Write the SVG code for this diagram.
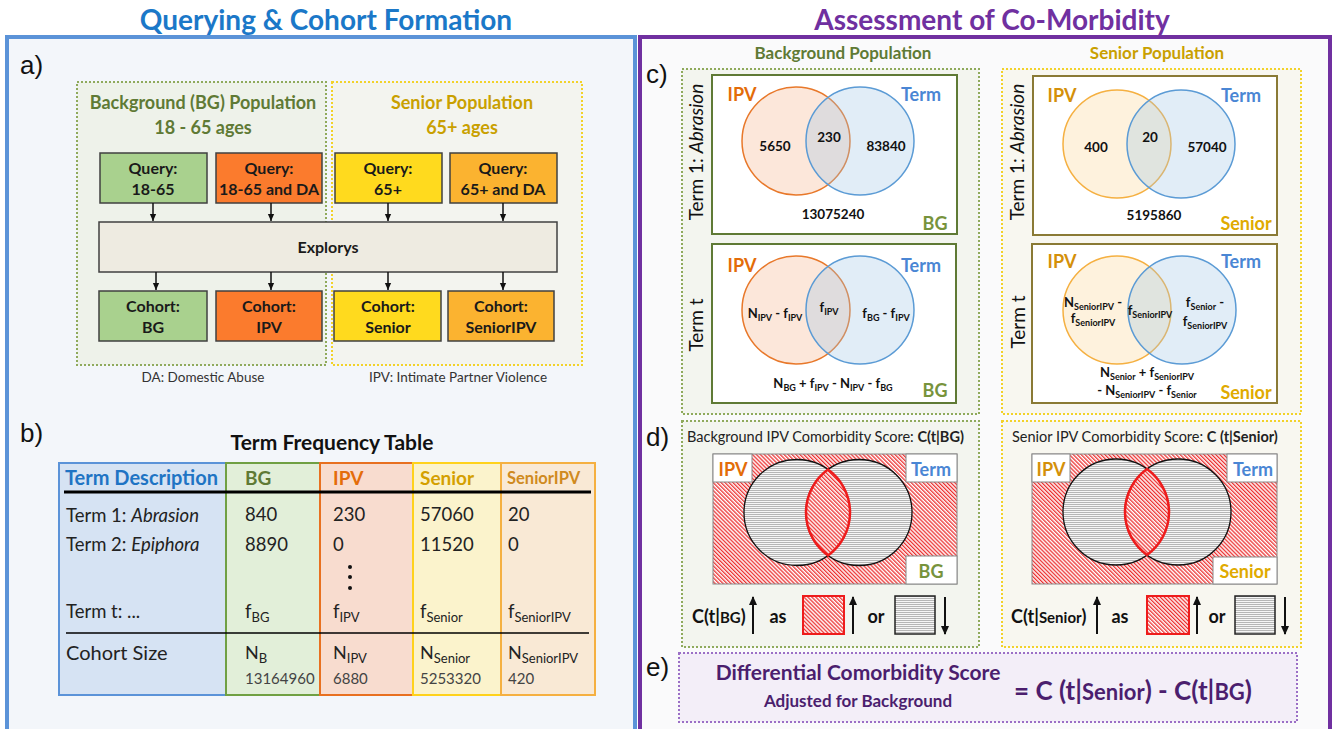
<svg xmlns="http://www.w3.org/2000/svg" width="1333" height="729" viewBox="0 0 1333 729">
<defs>
<style>
text{font-family:Lato,"Open Sans","Liberation Sans",sans-serif;fill:#1a1a1a}
.b{font-weight:bold}
.mid{text-anchor:middle}
.lab{font-family:"Liberation Sans",Arial,sans-serif;font-size:26px;fill:#111}
.q{font-size:16px;font-weight:bold;text-anchor:middle;fill:#1a1a1a}
.box{stroke:#404040;stroke-width:1.5}
.conn{stroke:#111;stroke-width:1.5;fill:none;marker-end:url(#ah)}
.num{font-size:13.5px;font-weight:bold;text-anchor:middle;fill:#111}
.ex{font-size:13px;font-weight:bold;text-anchor:middle;fill:#111}
.cell{font-size:18.5px;fill:#222}
.big{font-size:18px;font-weight:bold;text-anchor:middle}
.rot{font-size:19px;text-anchor:middle;fill:#111}
.dotG{fill:#f3f5ef;stroke:#8faa5c;stroke-width:2;stroke-dasharray:2 2}
.dotY{fill:#f8f7f0;stroke:#f2d22a;stroke-width:2;stroke-dasharray:2 2}
.ipvC{fill:#f4b183;fill-opacity:0.3;stroke:#e8782a;stroke-width:1.5}
.sipvC{fill:#fbd38d;fill-opacity:0.3;stroke:#f5b041;stroke-width:1.5}
.termC{fill:#9dc3e6;fill-opacity:0.3;stroke:#5b9bd5;stroke-width:1.5}
.grayC{fill:url(#gray);stroke:#111;stroke-width:1.3}
.lens{fill:url(#red);stroke:#ee1c1c;stroke-width:2.5}
.wb{fill:#fff;stroke:#888;stroke-width:1}
.sc{font-size:18px;font-weight:bold;fill:#111}
.arr{stroke:#111;stroke-width:2;fill:none}
</style>
<marker id="ah" viewBox="0 0 10 10" refX="10" refY="5" markerWidth="5" markerHeight="5" orient="auto" markerUnits="strokeWidth"><path d="M0,0.5 L10,5 L0,9.5 Z" fill="#111"/></marker>
<marker id="ah2" viewBox="0 0 10 10" refX="9" refY="5" markerWidth="4.5" markerHeight="4.5" orient="auto" markerUnits="strokeWidth"><path d="M0,0.5 L10,5 L0,9.5 Z" fill="#111"/></marker>
<pattern id="red" width="2.8" height="2.8" patternUnits="userSpaceOnUse" patternTransform="rotate(-45)"><rect width="2.8" height="2.8" fill="#fff"/><rect width="1.3" height="2.8" fill="#ec3030"/></pattern>
<pattern id="gray" width="4" height="2" patternUnits="userSpaceOnUse"><rect width="4" height="2" fill="#f6f6f6"/><rect width="4" height="0.7" fill="#9a9a9a"/></pattern>
</defs>

<rect width="1333" height="729" fill="#ffffff"/>

<!-- Panels -->
<g id="panel-left">
<rect x="7" y="37" width="628" height="700" fill="#f3f6fa" stroke="#5b93d8" stroke-width="4"/>
<text x="326" y="30" class="b mid" style="font-size:28px;fill:#1b78c8">Querying &amp; Cohort Formation</text>
<text x="20" y="74" class="lab">a)</text>
<text x="20" y="442" class="lab">b)</text>
</g>
<g id="panel-right">
<rect x="640" y="37" width="690" height="700" fill="#fafafb" stroke="#7030a0" stroke-width="4"/>
<text x="992" y="30" class="b mid" style="font-size:28px;fill:#7030a0">Assessment of Co-Morbidity</text>
<text x="646" y="83" class="lab">c)</text>
<text x="646" y="446" class="lab">d)</text>
<text x="646" y="676" class="lab">e)</text>
</g>

<!-- a) populations -->
<g id="bg-population">
<rect x="77" y="82" width="249" height="283" class="dotG" style="fill:#eef2ea"/>
<text x="203" y="109" class="b mid" style="font-size:18px;fill:#5f7a35">Background (BG) Population</text>
<text x="203" y="134" class="b mid" style="font-size:18px;fill:#5f7a35">18 - 65 ages</text>
<text x="203" y="382" class="mid" style="font-size:13.5px;fill:#333">DA: Domestic Abuse</text>
</g>
<g id="senior-population">
<rect x="332" y="82" width="250" height="283" class="dotY" style="fill:#f3f4ef"/>
<text x="462" y="109" class="b mid" style="font-size:18px;fill:#c9a000">Senior Population</text>
<text x="462" y="134" class="b mid" style="font-size:18px;fill:#c9a000">65+ ages</text>
<text x="458" y="382" class="mid" style="font-size:13.5px;fill:#333">IPV: Intimate Partner Violence</text>
</g>

<g id="query-bg"><rect x="100" y="153" width="107" height="50" fill="#a9d18e" class="box"/><text x="153" y="174" class="q">Query:</text><text x="153" y="195" class="q">18-65</text></g>
<g id="query-ipv"><rect x="216" y="153" width="106" height="50" fill="#fb7b2d" class="box"/><text x="269" y="174" class="q">Query:</text><text x="269" y="195" class="q">18-65 and DA</text></g>
<g id="query-senior"><rect x="335" y="153" width="107" height="50" fill="#ffda1e" class="box"/><text x="388" y="174" class="q">Query:</text><text x="388" y="195" class="q">65+</text></g>
<g id="query-senioripv"><rect x="450" y="153" width="107" height="50" fill="#fbb330" class="box"/><text x="503" y="174" class="q">Query:</text><text x="503" y="195" class="q">65+ and DA</text></g>

<g id="explorys"><rect x="99" y="222" width="458" height="50" fill="#eeebe1" class="box"/><text x="328" y="253" class="q">Explorys</text></g>

<g id="cohort-bg"><rect x="99" y="291" width="108" height="50" fill="#a9d18e" class="box"/><text x="153" y="312" class="q">Cohort:</text><text x="153" y="333" class="q">BG</text></g>
<g id="cohort-ipv"><rect x="216" y="291" width="106" height="50" fill="#fb7b2d" class="box"/><text x="269" y="312" class="q">Cohort:</text><text x="269" y="333" class="q">IPV</text></g>
<g id="cohort-senior"><rect x="334" y="291" width="107" height="50" fill="#ffda1e" class="box"/><text x="388" y="312" class="q">Cohort:</text><text x="388" y="333" class="q">Senior</text></g>
<g id="cohort-senioripv"><rect x="448" y="291" width="106" height="50" fill="#fbb330" class="box"/><text x="501" y="312" class="q">Cohort:</text><text x="501" y="333" class="q">SeniorIPV</text></g>

<g id="connectors">
<line x1="153" y1="203" x2="153" y2="221" class="conn"/>
<line x1="271" y1="203" x2="271" y2="221" class="conn"/>
<line x1="388" y1="203" x2="388" y2="221" class="conn"/>
<line x1="503" y1="203" x2="503" y2="221" class="conn"/>
<line x1="156" y1="272" x2="156" y2="290" class="conn"/>
<line x1="271" y1="272" x2="271" y2="290" class="conn"/>
<line x1="388" y1="272" x2="388" y2="290" class="conn"/>
<line x1="503" y1="272" x2="503" y2="290" class="conn"/>
</g>

<!-- b) table -->
<g id="term-frequency-table">
<text x="332" y="450" class="b mid" style="font-size:21px;fill:#111">Term Frequency Table</text>
<rect x="59" y="463" width="167" height="232" fill="#d6e3f3" stroke="#5b93d8" stroke-width="2"/>
<rect x="226" y="463" width="94" height="232" fill="#e2efd9" stroke="#70a043" stroke-width="2"/>
<rect x="320" y="463" width="93" height="232" fill="#f8dccf" stroke="#e87020" stroke-width="2"/>
<rect x="413" y="463" width="88" height="232" fill="#fbf3cc" stroke="#ffd21c" stroke-width="2"/>
<rect x="501" y="463" width="94" height="232" fill="#f9e9d5" stroke="#f5b041" stroke-width="2"/>
<text x="65" y="485" class="b" style="font-size:20px;fill:#1f74c4">Term Description</text>
<text x="245" y="485" class="b" style="font-size:19px;fill:#5f7a35">BG</text>
<text x="333" y="485" class="b" style="font-size:19px;fill:#e46c0a">IPV</text>
<text x="420" y="485" class="b" style="font-size:19px;fill:#d4a000">Senior</text>
<text x="507" y="484" class="b" style="font-size:16.5px;fill:#d08a20">SeniorIPV</text>
<line x1="64" y1="492" x2="591" y2="492" stroke="#000" stroke-width="3"/>
<text x="66" y="522" class="cell">Term 1: <tspan font-style="italic">Abrasion</tspan></text>
<text x="245" y="521" class="cell">840</text>
<text x="333" y="521" class="cell">230</text>
<text x="420" y="521" class="cell">57060</text>
<text x="508" y="521" class="cell">20</text>
<text x="66" y="551" class="cell">Term 2: <tspan font-style="italic">Epiphora</tspan></text>
<text x="245" y="551" class="cell">8890</text>
<text x="333" y="551" class="cell">0</text>
<text x="420" y="551" class="cell">11520</text>
<text x="508" y="551" class="cell">0</text>
<circle cx="350" cy="567" r="2" fill="#111"/>
<circle cx="350" cy="577" r="2" fill="#111"/>
<circle cx="350" cy="588" r="2" fill="#111"/>
<text x="66" y="618" class="cell">Term t: ...</text>
<text x="245" y="618" class="cell">f<tspan font-size="13" dy="4">BG</tspan></text>
<text x="333" y="618" class="cell">f<tspan font-size="13" dy="4">IPV</tspan></text>
<text x="420" y="618" class="cell">f<tspan font-size="13" dy="4">Senior</tspan></text>
<text x="508" y="618" class="cell">f<tspan font-size="13" dy="4">SeniorIPV</tspan></text>
<line x1="66" y1="633" x2="589" y2="633" stroke="#000" stroke-width="1.5"/>
<text x="66" y="660" class="cell" style="font-size:20px">Cohort Size</text>
<text x="245" y="659" class="cell" style="font-size:18px">N<tspan font-size="13" dy="4">B</tspan></text>
<text x="333" y="659" class="cell" style="font-size:18px">N<tspan font-size="13" dy="4">IPV</tspan></text>
<text x="420" y="659" class="cell" style="font-size:18px">N<tspan font-size="13" dy="4">Senior</tspan></text>
<text x="508" y="659" class="cell" style="font-size:18px">N<tspan font-size="13" dy="4">SeniorIPV</tspan></text>
<text x="245" y="684" class="cell" style="font-size:15px;fill:#444">13164960</text>
<text x="333" y="684" class="cell" style="font-size:15px;fill:#444">6880</text>
<text x="420" y="684" class="cell" style="font-size:15px;fill:#444">5253320</text>
<text x="508" y="684" class="cell" style="font-size:15px;fill:#444">420</text>
</g>

<!-- c) Background population -->
<g id="c-background">
<text x="843" y="59" class="b mid" style="font-size:17px;fill:#5f7a35">Background Population</text>
<rect x="682" y="69" width="297" height="345" class="dotG"/>
</g>
<g id="c-bg-term1">
<rect x="712" y="75" width="245" height="159" fill="#fff" stroke="#5f7a35" stroke-width="2"/>
<circle cx="796" cy="141" r="54" class="ipvC"/>
<circle cx="860" cy="141" r="54" class="termC"/>
<text x="742" y="101" class="big" style="fill:#e36c09">IPV</text>
<text x="921" y="101" class="big" style="fill:#4a86d4">Term</text>
<text x="775" y="151" class="num">5650</text>
<text x="829" y="142" class="num">230</text>
<text x="886" y="151" class="num">83840</text>
<text x="833" y="219" class="num">13075240</text>
<text x="935" y="230" class="big" style="fill:#77933c">BG</text>
<text transform="translate(703,152) rotate(-90)" class="rot">Term 1: <tspan font-style="italic">Abrasion</tspan></text>
</g>
<g id="c-bg-termt">
<rect x="712" y="244" width="244" height="159" fill="#fff" stroke="#5f7a35" stroke-width="2"/>
<circle cx="796" cy="310" r="54" class="ipvC"/>
<circle cx="860" cy="310" r="54" class="termC"/>
<text x="742" y="272" class="big" style="fill:#e36c09">IPV</text>
<text x="921" y="272" class="big" style="fill:#4a86d4">Term</text>
<text x="775" y="318" class="ex">N<tspan font-size="9" dy="3">IPV</tspan><tspan dy="-3"> - f</tspan><tspan font-size="9" dy="3">IPV</tspan></text>
<text x="829" y="312" class="ex">f<tspan font-size="9" dy="3">IPV</tspan></text>
<text x="886" y="318" class="ex">f<tspan font-size="9" dy="3">BG</tspan><tspan dy="-3"> - f</tspan><tspan font-size="9" dy="3">IPV</tspan></text>
<text x="833" y="388" class="ex">N<tspan font-size="9" dy="3">BG</tspan><tspan dy="-3"> + f</tspan><tspan font-size="9" dy="3">IPV</tspan><tspan dy="-3"> - N</tspan><tspan font-size="9" dy="3">IPV</tspan><tspan dy="-3"> - f</tspan><tspan font-size="9" dy="3">BG</tspan></text>
<text x="935" y="397" class="big" style="fill:#77933c">BG</text>
<text transform="translate(703,325) rotate(-90)" class="rot">Term t</text>
</g>

<!-- c) Senior population -->
<g id="c-senior">
<text x="1157" y="59" class="b mid" style="font-size:17px;fill:#c9a000">Senior Population</text>
<rect x="1002" y="69" width="299" height="345" class="dotY"/>
</g>
<g id="c-senior-term1">
<rect x="1033" y="76" width="244" height="159" fill="#fff" stroke="#8a7a35" stroke-width="2"/>
<circle cx="1117" cy="144" r="54" class="sipvC"/>
<circle cx="1181" cy="144" r="54" class="termC"/>
<text x="1062" y="102" class="big" style="fill:#d4900a">IPV</text>
<text x="1241" y="102" class="big" style="fill:#4a86d4">Term</text>
<text x="1096" y="152" class="num">400</text>
<text x="1150" y="142" class="num">20</text>
<text x="1207" y="152" class="num">57040</text>
<text x="1154" y="220" class="num">5195860</text>
<text x="1246" y="230" class="big" style="fill:#e0aa00">Senior</text>
<text transform="translate(1024,152) rotate(-90)" class="rot">Term 1: <tspan font-style="italic">Abrasion</tspan></text>
</g>
<g id="c-senior-termt">
<rect x="1032" y="244" width="245" height="159" fill="#fff" stroke="#8a7a35" stroke-width="2"/>
<circle cx="1117" cy="310" r="54" class="sipvC"/>
<circle cx="1182" cy="310" r="54" class="termC"/>
<text x="1062" y="268" class="big" style="fill:#d4900a">IPV</text>
<text x="1241" y="268" class="big" style="fill:#4a86d4">Term</text>
<text x="1093" y="307" class="ex">N<tspan font-size="9" dy="3">SeniorIPV</tspan><tspan dy="-3"> -</tspan></text>
<text x="1093" y="323" class="ex">f<tspan font-size="9" dy="3">SeniorIPV</tspan></text>
<text x="1150" y="315" class="ex">f<tspan font-size="9" dy="3">SeniorIPV</tspan></text>
<text x="1205" y="307" class="ex">f<tspan font-size="9" dy="3">Senior</tspan><tspan dy="-3"> -</tspan></text>
<text x="1205" y="326" class="ex">f<tspan font-size="9" dy="3">SeniorIPV</tspan></text>
<text x="1147" y="377" class="ex">N<tspan font-size="9" dy="3">Senior</tspan><tspan dy="-3"> + f</tspan><tspan font-size="9" dy="3">SeniorIPV</tspan></text>
<text x="1147" y="395" class="ex">- N<tspan font-size="9" dy="3">SeniorIPV</tspan><tspan dy="-3"> - f</tspan><tspan font-size="9" dy="3">Senior</tspan></text>
<text x="1246" y="399" class="big" style="fill:#e0aa00">Senior</text>
<text transform="translate(1025,322) rotate(-90)" class="rot">Term t</text>
</g>

<!-- d) scores -->
<g id="d-background">
<rect x="682" y="421" width="297" height="226" class="dotG"/>
<text x="687" y="442" style="font-size:14.5px;fill:#222">Background IPV Comorbidity Score: <tspan font-weight="bold">C(t|BG)</tspan></text>
<rect x="713" y="454" width="244" height="130" fill="url(#red)" stroke="#888" stroke-width="1"/>
<rect x="713" y="454" width="39" height="28" class="wb"/>
<rect x="906" y="454" width="51" height="28" class="wb"/>
<rect x="906" y="556" width="51" height="28" class="wb"/>
<circle cx="797" cy="512.5" r="53" class="grayC"/>
<circle cx="859" cy="512.5" r="53" class="grayC"/>
<path d="M828,469.5 A53,53 0 0,1 828,555.5 A53,53 0 0,1 828,469.5 Z" class="lens"/>
<text x="733" y="476" class="big" style="fill:#e36c09">IPV</text>
<text x="931" y="476" class="big" style="fill:#4a86d4">Term</text>
<text x="931" y="578" class="big" style="fill:#77933c">BG</text>
<text x="692" y="623" class="sc">C(t|<tspan font-size="15">BG</tspan>)</text>
<text x="778" y="623" class="sc mid">as</text>
<rect x="803" y="596" width="41" height="38" fill="url(#red)" stroke="#ee1c1c" stroke-width="2"/>
<text x="876" y="623" class="sc mid">or</text>
<rect x="895" y="596" width="40" height="38" fill="url(#gray)" stroke="#222" stroke-width="1.5"/>
<line x1="753" y1="634" x2="753" y2="597" class="arr" marker-end="url(#ah2)"/>
<line x1="853" y1="634" x2="853" y2="597" class="arr" marker-end="url(#ah2)"/>
<line x1="945" y1="597" x2="945" y2="634" class="arr" marker-end="url(#ah2)"/>
</g>
<g id="d-senior">
<rect x="1002" y="421" width="299" height="226" class="dotY"/>
<text x="1012" y="442" style="font-size:14.5px;fill:#222">Senior IPV Comorbidity Score: <tspan font-weight="bold">C (t|Senior)</tspan></text>
<rect x="1032" y="454" width="245" height="130" fill="url(#red)" stroke="#888" stroke-width="1"/>
<rect x="1032" y="454" width="38" height="28" class="wb"/>
<rect x="1227" y="454" width="50" height="28" class="wb"/>
<rect x="1213" y="557" width="64" height="27" class="wb"/>
<circle cx="1116" cy="512" r="53" class="grayC"/>
<circle cx="1178" cy="512" r="53" class="grayC"/>
<path d="M1147,469 A53,53 0 0,1 1147,555 A53,53 0 0,1 1147,469 Z" class="lens"/>
<text x="1051" y="476" class="big" style="fill:#d4900a">IPV</text>
<text x="1253" y="476" class="big" style="fill:#4a86d4">Term</text>
<text x="1245" y="578" class="big" style="fill:#e0aa00">Senior</text>
<text x="1011" y="623" class="sc">C(t|<tspan font-size="15">Senior</tspan>)</text>
<text x="1120" y="623" class="sc mid">as</text>
<rect x="1147" y="596" width="42" height="38" fill="url(#red)" stroke="#ee1c1c" stroke-width="2"/>
<text x="1217" y="623" class="sc mid">or</text>
<rect x="1235" y="596" width="40" height="38" fill="url(#gray)" stroke="#222" stroke-width="1.5"/>
<line x1="1097" y1="634" x2="1097" y2="597" class="arr" marker-end="url(#ah2)"/>
<line x1="1197" y1="634" x2="1197" y2="597" class="arr" marker-end="url(#ah2)"/>
<line x1="1285" y1="597" x2="1285" y2="634" class="arr" marker-end="url(#ah2)"/>
</g>

<!-- e) -->
<g id="e-differential">
<rect x="679" y="653" width="618" height="69" fill="#f3eef8" stroke="#9b6fc6" stroke-width="2" stroke-dasharray="2 2"/>
<text x="858" y="680" class="b mid" style="font-size:21px;fill:#4b1e6e">Differential Comorbidity Score</text>
<text x="858" y="707" class="b mid" style="font-size:17px;fill:#4b1e6e">Adjusted for Background</text>
<text x="1014" y="700" class="b" style="font-size:26px;fill:#4b1e6e">= C (t|<tspan font-size="22">Senior</tspan>) - C(t|<tspan font-size="22">BG</tspan>)</text>
</g>
</svg>
